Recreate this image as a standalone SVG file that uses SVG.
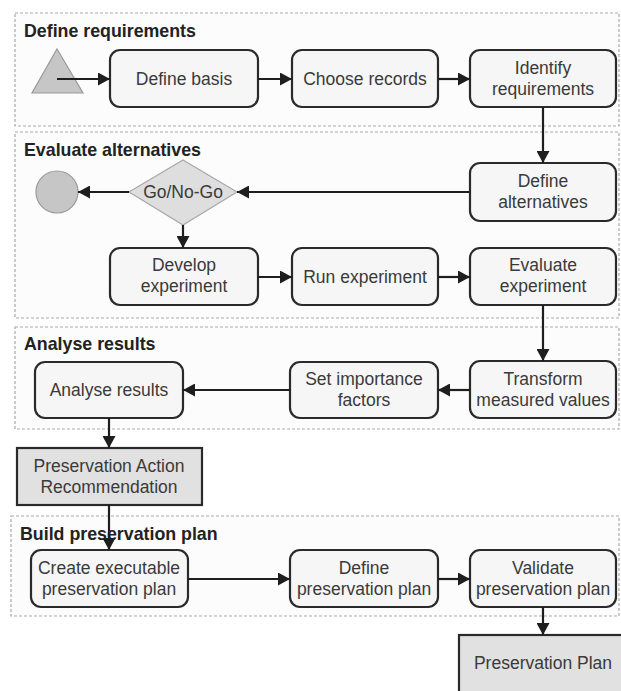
<svg xmlns="http://www.w3.org/2000/svg" width="621" height="691" viewBox="0 0 621 691">
<defs>
<marker id="ah" markerUnits="userSpaceOnUse" markerWidth="13" markerHeight="13" refX="12" refY="6.5" orient="auto">
<path d="M0,0 L12,6.5 L0,13 z" fill="#1e1e1e"/>
</marker>
<style>
.sec{fill:#fcfcfc;stroke:#aaaaaa;stroke-width:1.2;stroke-dasharray:3 2}
.st{font-family:"Liberation Sans",Arial,sans-serif;font-weight:bold;font-size:17.8px;fill:#222}
.nd{fill:#f6f6f6;stroke:#2a2a2a;stroke-width:2.2}
.out{fill:#e1e1e1;stroke:#2a2a2a;stroke-width:2.2}
.tx{font-family:"Liberation Sans",Arial,sans-serif;font-size:17.5px;fill:#3a3a3a;text-anchor:middle}
.cn{fill:none;stroke:#1e1e1e;stroke-width:2.2;marker-end:url(#ah)}
</style>
</defs>
<rect width="621" height="691" fill="#ffffff"/>
<g id="sections">
<rect class="sec" x="15" y="13" width="604" height="113"/>
<text class="st" x="24" y="37">Define requirements</text>
<rect class="sec" x="15" y="132" width="604" height="186"/>
<text class="st" x="24" y="156">Evaluate alternatives</text>
<rect class="sec" x="15" y="327" width="604" height="102"/>
<text class="st" x="24" y="350">Analyse results</text>
<rect class="sec" x="11" y="516" width="608" height="100"/>
<text class="st" x="20" y="540">Build preservation plan</text>
</g>
<g id="start"><polygon points="57,49 83,93 32,93" fill="#c6c6c6" stroke="#9a9a9a" stroke-width="1.2"/></g>
<g id="end"><circle cx="57" cy="192" r="21" fill="#c6c6c6" stroke="#9a9a9a" stroke-width="1.2"/></g>
<g id="define-basis"><rect class="nd" x="110" y="50" width="148" height="57" rx="10"/><text class="tx" x="184" y="85">Define basis</text></g>
<g id="choose-records"><rect class="nd" x="292" y="50" width="146" height="57" rx="10"/><text class="tx" x="365" y="85">Choose records</text></g>
<g id="identify-requirements"><rect class="nd" x="470" y="50" width="146" height="57" rx="10"/><text class="tx" x="543" y="74">Identify</text><text class="tx" x="543" y="95">requirements</text></g>
<g id="define-alternatives"><rect class="nd" x="470" y="163" width="146" height="58" rx="10"/><text class="tx" x="543" y="187">Define</text><text class="tx" x="543" y="208">alternatives</text></g>
<g id="go-no-go"><polygon points="183,160 237,192 183,225 129,192" fill="#dedede" stroke="#a8a8a8" stroke-width="1.2"/><text class="tx" x="183" y="198">Go/No-Go</text></g>
<g id="develop-experiment"><rect class="nd" x="110" y="248" width="148" height="57" rx="10"/><text class="tx" x="184" y="271">Develop</text><text class="tx" x="184" y="292">experiment</text></g>
<g id="run-experiment"><rect class="nd" x="292" y="248" width="146" height="57" rx="10"/><text class="tx" x="365" y="283">Run experiment</text></g>
<g id="evaluate-experiment"><rect class="nd" x="470" y="248" width="146" height="57" rx="10"/><text class="tx" x="543" y="271">Evaluate</text><text class="tx" x="543" y="292">experiment</text></g>
<g id="analyse-results"><rect class="nd" x="35" y="362" width="148" height="56" rx="10"/><text class="tx" x="109" y="396">Analyse results</text></g>
<g id="set-importance"><rect class="nd" x="290" y="362" width="148" height="56" rx="10"/><text class="tx" x="364" y="385">Set importance</text><text class="tx" x="364" y="406">factors</text></g>
<g id="transform"><rect class="nd" x="470" y="361" width="146" height="57" rx="10"/><text class="tx" x="543" y="385">Transform</text><text class="tx" x="543" y="406">measured values</text></g>
<g id="par"><rect class="out" x="17" y="448" width="185" height="57"/><text class="tx" x="109" y="472">Preservation Action</text><text class="tx" x="109" y="493">Recommendation</text></g>
<g id="create-plan"><rect class="nd" x="31" y="550" width="157" height="57" rx="10"/><text class="tx" x="109" y="574">Create executable</text><text class="tx" x="109" y="595">preservation plan</text></g>
<g id="define-plan"><rect class="nd" x="290" y="550" width="148" height="57" rx="10"/><text class="tx" x="364" y="574">Define</text><text class="tx" x="364" y="595">preservation plan</text></g>
<g id="validate-plan"><rect class="nd" x="470" y="550" width="146" height="57" rx="10"/><text class="tx" x="543" y="574">Validate</text><text class="tx" x="543" y="595">preservation plan</text></g>
<g id="preservation-plan"><rect class="out" x="459" y="635" width="170" height="70"/><text class="tx" x="543" y="669">Preservation Plan</text></g>
<g id="connectors">
<path class="cn" d="M57,79 H110"/>
<path class="cn" d="M258,79 H292"/>
<path class="cn" d="M438,79 H470"/>
<path class="cn" d="M543,107 V163"/>
<path class="cn" d="M470,192 H237"/>
<path class="cn" d="M129,192 H78"/>
<path class="cn" d="M183,225 V248"/>
<path class="cn" d="M258,277 H292"/>
<path class="cn" d="M438,277 H470"/>
<path class="cn" d="M543,305 V361"/>
<path class="cn" d="M470,390 H438"/>
<path class="cn" d="M290,390 H183"/>
<path class="cn" d="M109,418 V448"/>
<path class="cn" d="M109,505 V550"/>
<path class="cn" d="M188,579 H290"/>
<path class="cn" d="M438,579 H470"/>
<path class="cn" d="M543,607 V635"/>
</g>
</svg>
